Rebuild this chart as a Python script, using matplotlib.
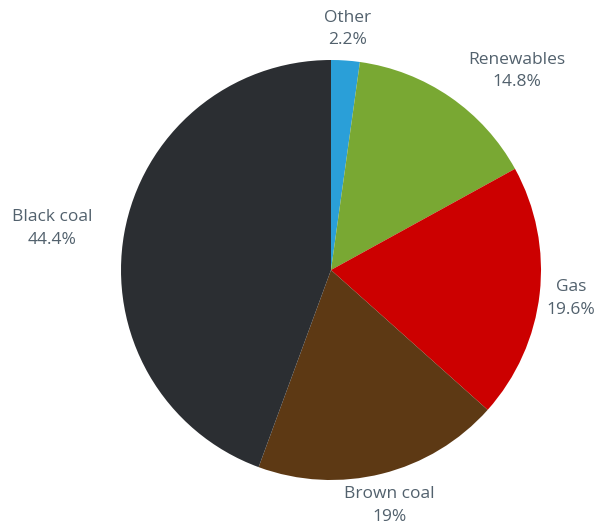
import matplotlib.pyplot as plt
import numpy as np

labels = ["Other", "Renewables", "Gas", "Brown coal", "Black coal"]
shares = [2.2, 14.8, 19.6, 19, 44.4]
share_text = ["2.2%", "14.8%", "19.6%", "19%", "44.4%"]
colors = ["#2a9fd8", "#79a833", "#cc0000", "#5d3914", "#2b2e32"]

# label placement: distance from centre (in radii) and a sideways nudge in px
label_dist = [1.16, 1.15, 1.15, 1.15, 1.35]
label_nudge = [(0, -2), (49, 0), (0, -1), (0, -1), (0, -8)]

W, H = 600, 525
cx, cy, r = 331, H - 270, 210

fig = plt.figure(figsize=(6, 5.25), dpi=100)
ax = fig.add_axes([0, 0, 1, 1])

wedges, _ = ax.pie(shares, colors=colors, startangle=90, counterclock=False,
                   center=(cx, cy), radius=r, wedgeprops=dict(linewidth=0))

for w, name, pct, d, (nx, ny) in zip(wedges, labels, share_text, label_dist, label_nudge):
    mid = np.deg2rad((w.theta1 + w.theta2) / 2)
    x = cx + d * r * np.cos(mid) + nx
    y = cy + d * r * np.sin(mid) + ny
    ax.text(x, y, f"{name}\n{pct}", ha="center", va="center",
            fontsize=12.5, family="Open Sans", color="#52616d", linespacing=1.55)

ax.set_xlim(0, W)
ax.set_ylim(0, H)
ax.set_aspect("equal")
ax.axis("off")

fig.savefig("out.png", dpi=100, facecolor="white")
